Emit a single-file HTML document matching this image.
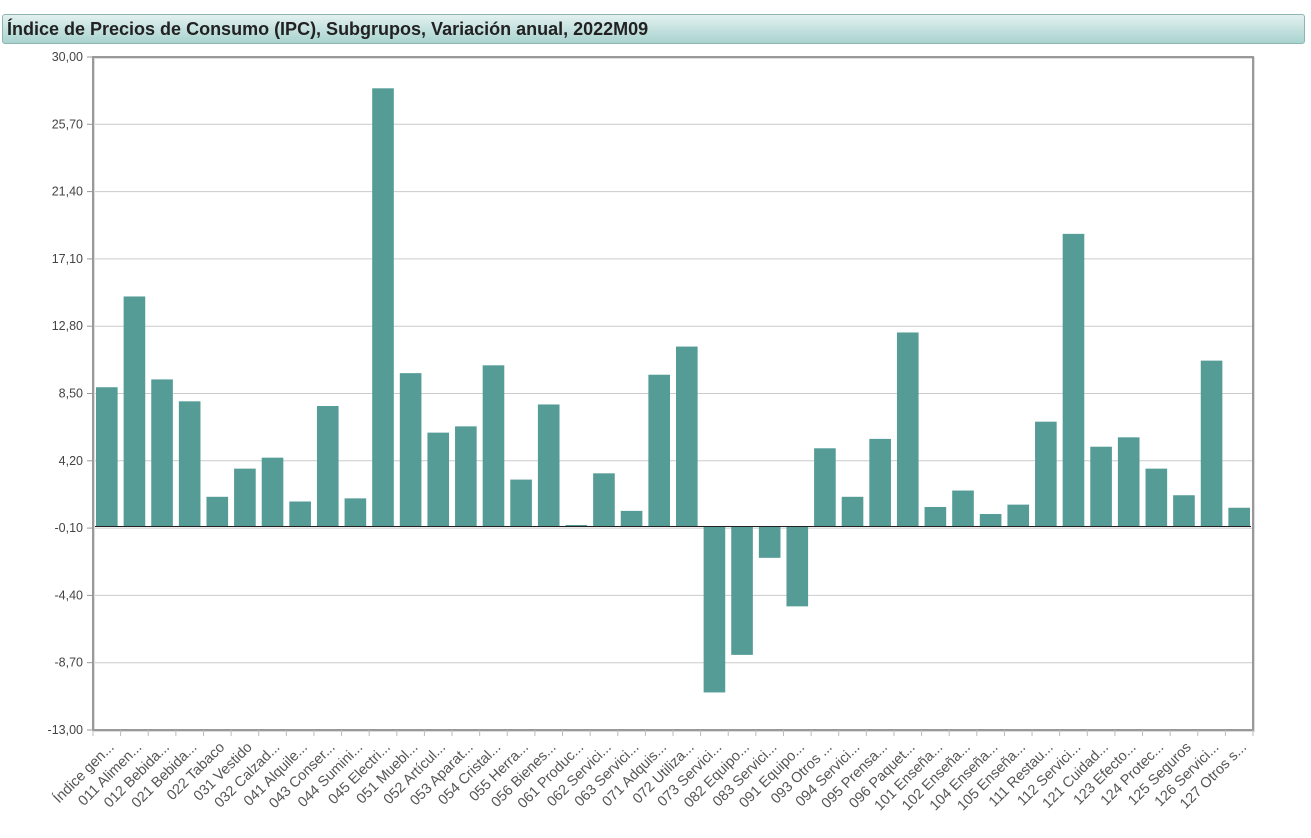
<!DOCTYPE html>
<html><head><meta charset="utf-8"><style>
body{margin:0;background:#fff;width:1311px;height:838px;overflow:hidden;font-family:"Liberation Sans",sans-serif}
#title{position:absolute;left:2px;top:14px;width:1303px;height:30px;border:1px solid #8fb5b3;border-radius:3px;background:linear-gradient(#e2f1f0,#a9d3cf);box-sizing:border-box;font-weight:bold;font-size:18px;color:#222;line-height:28px;padding-left:4px}
svg{position:absolute;left:0;top:0}
</style></head><body>
<div id="title">Índice de Precios de Consumo (IPC), Subgrupos, Variación anual, 2022M09</div>
<svg id="c" width="1311" height="838"></svg>
<script>
const categories=["Índice gen...","011 Alimen...","012 Bebida...","021 Bebida...","022 Tabaco","031 Vestido","032 Calzad...","041 Alquile...","043 Conser...","044 Sumini...","045 Electri...","051 Muebl...","052 Artícul...","053 Aparat...","054 Cristal...","055 Herra...","056 Bienes...","061 Produc...","062 Servici...","063 Servici...","071 Adquis...","072 Utiliza...","073 Servici...","082 Equipo...","083 Servici...","091 Equipo...","093 Otros ...","094 Servici...","095 Prensa...","096 Paquet...","101 Enseña...","102 Enseña...","104 Enseña...","105 Enseña...","111 Restau...","112 Servici...","121 Cuidad...","123 Efecto...","124 Protec...","125 Seguros","126 Servici...","127 Otros s..."];
const values=[8.9,14.7,9.4,8.0,1.9,3.7,4.4,1.6,7.7,1.8,28.0,9.8,6.0,6.4,10.3,3.0,7.8,0.1,3.4,1.0,9.7,11.5,-10.6,-8.2,-2.0,-5.1,5.0,1.9,5.6,12.4,1.25,2.3,0.8,1.4,6.7,18.7,5.1,5.7,3.7,2.0,10.6,1.2];
const ticks=[30,25.7,21.4,17.1,12.8,8.5,4.2,-0.1,-4.4,-8.7,-13];
const tickLabels=["30,00","25,70","21,40","17,10","12,80","8,50","4,20","-0,10","-4,40","-8,70","-13,00"];
const X0=93,X1=1253,Y0=57,Y1=730,ymax=30,ymin=-13;
const y=v=>Y0+(ymax-v)/(ymax-ymin)*(Y1-Y0);
const bw=(X1-X0)/categories.length;
const x=i=>X0+i*bw;
const svg=document.getElementById('c');const NS='http://www.w3.org/2000/svg';
function mk(t,a,p){const e=document.createElementNS(NS,t);for(const k in a)e.setAttribute(k,a[k]);(p||svg).appendChild(e);return e;}
ticks.forEach((t,i)=>{
 const g=mk('line',{x1:X0,x2:X1,y1:y(t),y2:y(t),stroke:'#ccc','stroke-width':1});
 
 
 mk('line',{x1:X0-6,x2:X0,y1:y(t),y2:y(t),stroke:'#999'});
 const l=mk('text',{x:X0-10,y:y(t)+4,'text-anchor':'end','font-size':12.5,fill:'#444'});l.textContent=tickLabels[i];
 
 
});
values.forEach((v,i)=>{
 const b=mk('rect',{x:x(i)+3,width:bw-6,y:Math.min(y(v),y(0)),height:Math.abs(y(v)-y(0)),fill:'#559c97'});
 
 
});
mk('line',{x1:X0+2,x2:X1-2,y1:y(0),y2:y(0),stroke:'#222','stroke-width':1});
mk('rect',{x:X0+1,y:Y0+1,width:X1-X0,height:Y1-Y0,fill:'none',stroke:'#ddd','stroke-width':2});
mk('rect',{x:X0,y:Y0,width:X1-X0,height:Y1-Y0,fill:'none',stroke:'#999','stroke-width':2});
categories.forEach((c,i)=>{
 mk('line',{x1:x(i),x2:x(i),y1:Y1,y2:Y1+6,stroke:'#bbb'});
 const cx=x(i)+bw/2+8,cy=Y1+18;
 const t=mk('text',{x:cx,y:cy,'text-anchor':'end','font-size':14.5,fill:'#555',transform:`rotate(-45 ${cx} ${cy})`});
 t.textContent=c;
 
 
});
mk('line',{x1:X1,x2:X1,y1:Y1,y2:Y1+6,stroke:'#bbb'});
</script>
</body></html>
